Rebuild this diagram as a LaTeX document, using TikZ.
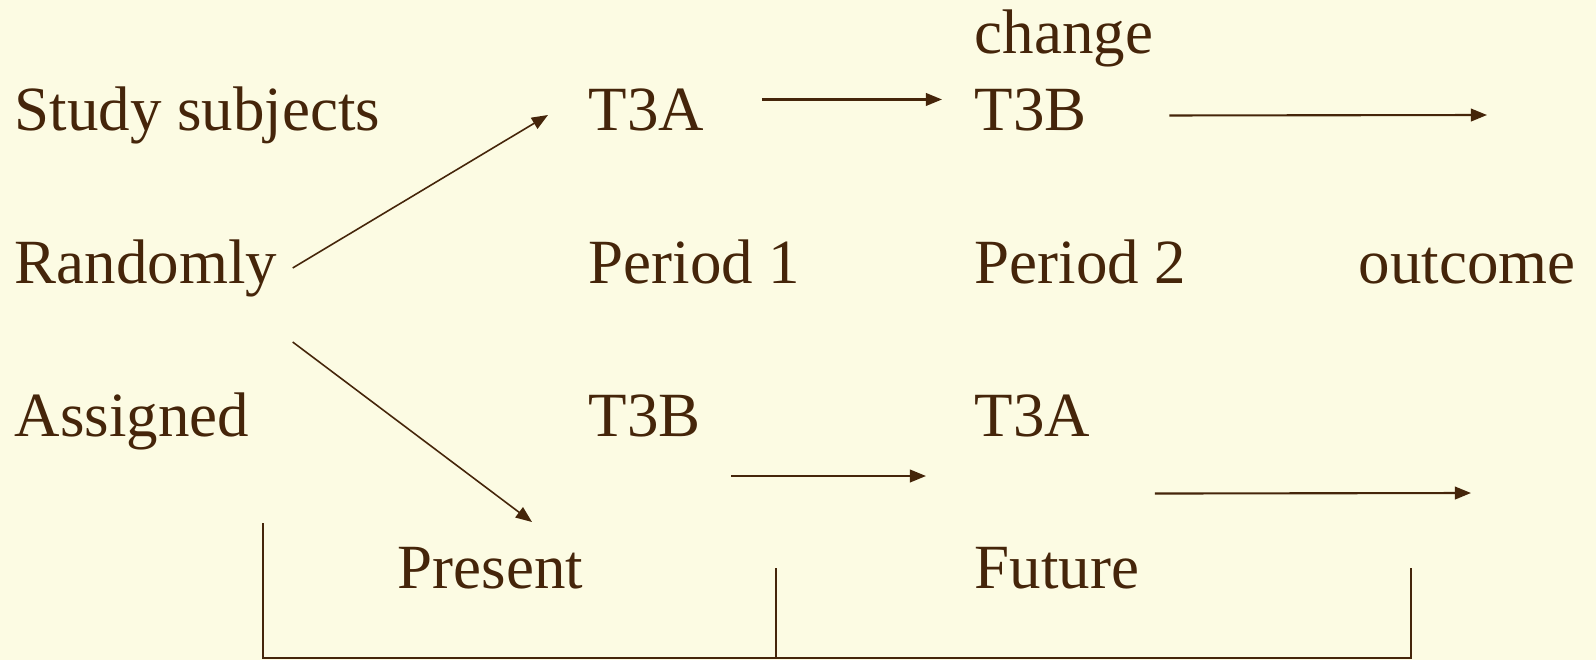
\documentclass[tikz,border=0pt]{standalone}
\usepackage{fontspec}
\setmainfont{Liberation Serif}
\newfontfamily\slidefont{Liberation Serif}
\usetikzlibrary{arrows.meta}
\definecolor{slidebg}{HTML}{FCFBE3}
\definecolor{ink}{HTML}{45250A}

\begin{document}
\begin{tikzpicture}[
  x=0.01cm,
  y=-0.01cm,
  lbl/.style={anchor=base west, inner sep=0pt, text=ink, font=\slidefont\fontsize{17.9}{20}\selectfont},
  flow/.style={-{Triangle[length=4.6pt, width=3.6pt]}, line width=0.6pt, draw=ink},
  split/.style={-{Triangle[length=4.6pt, width=3.6pt]}, line width=0.45pt, draw=ink},
  span/.style={line width=0.45pt, draw=ink}
]
\fill[slidebg] (0,0) rectangle (1596,660);

\node[lbl] (subj) at (14,130) {Study subjects};
\node[lbl] (rand) at (14,283) {Randomly};
\node[lbl] (asgn) at (14,436) {Assigned};

\node[lbl] (t3aP1) at (588,130) {T3A};
\node[lbl] (per1)  at (588,283) {Period 1};
\node[lbl] (t3bP1) at (588,436) {T3B};

\node[lbl] (chg)   at (974,53)  {change};
\node[lbl] (t3bP2) at (974,130) {T3B};
\node[lbl] (per2)  at (974,283) {Period 2};
\node[lbl] (t3aP2) at (974,436) {T3A};

\node[lbl] (outc) at (1358,283) {outcome};
\node[lbl] (pres) at (397,588)  {Present};
\node[lbl] (futr) at (974,588)  {Future};

% free arrow ends
\coordinate (upEnd)   at (548,115);
\coordinate (downEnd) at (532,522);
\coordinate (topOut)  at (1487,115);
\coordinate (lowIn)   at (731,476);
\coordinate (lowMid)  at (926,476);
\coordinate (lowOut)  at (1471,493);

% bracket corners
\coordinate (brL)  at (263,523);
\coordinate (brM)  at (776,568);
\coordinate (brR)  at (1411,568);
\coordinate (brBL) at (263,658);
\coordinate (brBM) at (776,658);
\coordinate (brBR) at (1411,658);

\draw[split] ([xshift=0.15cm]rand.east) -- (upEnd);
\draw[split] ([xshift=0.15cm,yshift=-0.74cm]rand.east) -- (downEnd);

\draw[flow] ([xshift=0.57cm,yshift=0.1cm]t3aP1.east) -- ([xshift=-0.32cm,yshift=0.1cm]t3bP2.west);
\draw[flow] ([xshift=0.82cm,yshift=-0.06cm]t3bP2.east) -- (topOut);
\draw[flow] (lowIn) -- (lowMid);
\draw[flow] ([xshift=0.64cm,yshift=-0.78cm]t3aP2.east) -- (lowOut);

\draw[span] (brL) -- (brBL) -- (brBR) -- (brR);
\draw[span] (brM) -- (brBM);
\end{tikzpicture}
\end{document}
